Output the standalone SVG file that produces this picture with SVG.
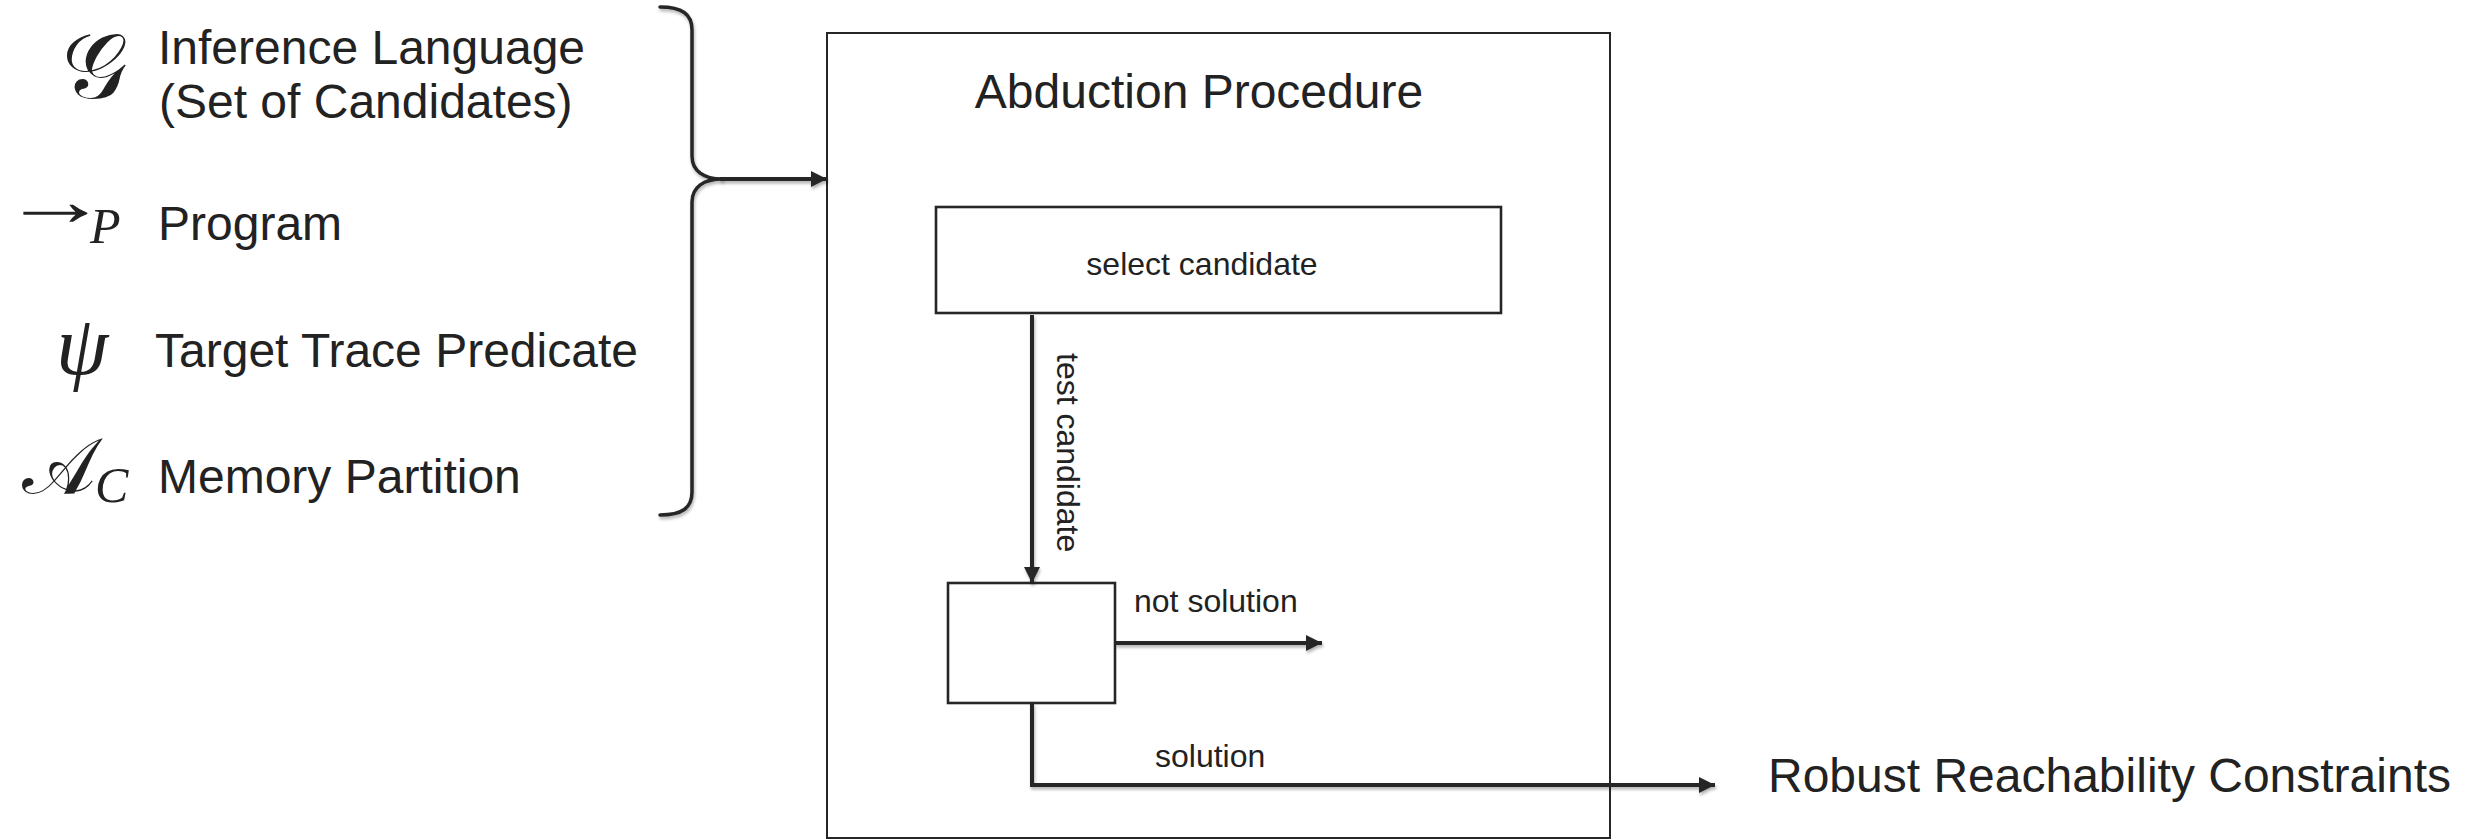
<svg xmlns="http://www.w3.org/2000/svg" width="2476" height="839" viewBox="0 0 2476 839">
  <defs>
    <style>
      .lbl { font-family: "Liberation Sans", Arial, sans-serif; fill: #222; }
      .big { font-size: 48px; }
      .small { font-size: 32px; }
      .math { font-family: "Liberation Serif", "DejaVu Serif", serif; font-style: italic; fill: #222; }
      .script { font-family: "DejaVu Serif", "Liberation Serif", serif; fill: #222; }
      .box { fill: #fff; stroke: #262626; stroke-width: 2.6; }
      .outer { fill: none; stroke: #262626; stroke-width: 2; }
      .conn { fill: none; stroke: #262626; stroke-width: 4; }
      .brace { fill: none; stroke: #262626; stroke-width: 3.5; stroke-linecap: round; }
    </style>
    <filter id="shadow" filterUnits="userSpaceOnUse" x="0" y="0" width="2476" height="839">
      <feDropShadow dx="1" dy="2.5" stdDeviation="1.5" flood-color="#000" flood-opacity="0.3"/>
    </filter>
    <marker id="arrow" markerUnits="userSpaceOnUse" markerWidth="16" markerHeight="16" viewBox="0 0 16 16" refX="16" refY="8" orient="auto">
      <path d="M0,0 L16,8 L0,16 Z" fill="#262626"/>
    </marker>
  </defs>

  <g id="inputs">
    <g id="input-grammar">
      <text class="script" x="62" y="98" font-size="92">𝒢</text>
      <text class="lbl big" x="158" y="64">Inference Language</text>
      <text class="lbl big" x="159" y="118">(Set of Candidates)</text>
    </g>
    <g id="input-program">
      <text x="1" y="225" font-family="Liberation Serif, DejaVu Serif, serif" font-size="72" fill="#222" textLength="108" lengthAdjust="spacingAndGlyphs">→</text>
      <text class="math" x="90" y="243" font-size="50">P</text>
      <text class="lbl big" x="158" y="240">Program</text>
    </g>
    <g id="input-psi">
      <text class="math" x="56" y="374" font-size="84">ψ</text>
      <text class="lbl big" x="155" y="367">Target Trace Predicate</text>
    </g>
    <g id="input-memory">
      <text class="script" x="22" y="493" font-size="78">𝒜</text>
      <text class="math" x="95" y="502" font-size="50">C</text>
      <text class="lbl big" x="158" y="493">Memory Partition</text>
    </g>
  </g>

  <g id="abduction-procedure">
    <rect class="outer" x="827" y="33" width="783" height="805"/>
    <text class="lbl big" x="1199" y="108" text-anchor="middle">Abduction Procedure</text>
  </g>

  <g id="select-candidate">
    <rect class="box" x="936" y="207" width="565" height="106"/>
    <text class="lbl small" x="1202" y="275" text-anchor="middle">select candidate</text>
  </g>

  <g id="test-box">
    <rect class="box" x="948" y="583" width="167" height="120"/>
  </g>

  <g id="output">
    <text class="lbl big" x="1768" y="792">Robust Reachability Constraints</text>
  </g>

  <g id="connectors">
    <path class="brace" filter="url(#shadow)" d="M660,7 C682,7 692,14 692,30 L692,156 C692,171 704,179 722,179 M722,179 C704,179 692,187 692,202 L692,492 C692,508 682,515 660,515"/>
    <line class="conn" filter="url(#shadow)" x1="720" y1="179" x2="827" y2="179" marker-end="url(#arrow)"/>
    <line class="conn" filter="url(#shadow)" x1="1032" y1="315" x2="1032" y2="583" marker-end="url(#arrow)"/>
    <text class="lbl small" transform="translate(1057,353) rotate(90)">test candidate</text>
    <line class="conn" filter="url(#shadow)" x1="1115" y1="643" x2="1322" y2="643" marker-end="url(#arrow)"/>
    <text class="lbl small" x="1134" y="612">not solution</text>
    <path class="conn" filter="url(#shadow)" d="M1032,703 L1032,785 L1715,785" marker-end="url(#arrow)"/>
    <text class="lbl small" x="1155" y="767">solution</text>
  </g>
</svg>
